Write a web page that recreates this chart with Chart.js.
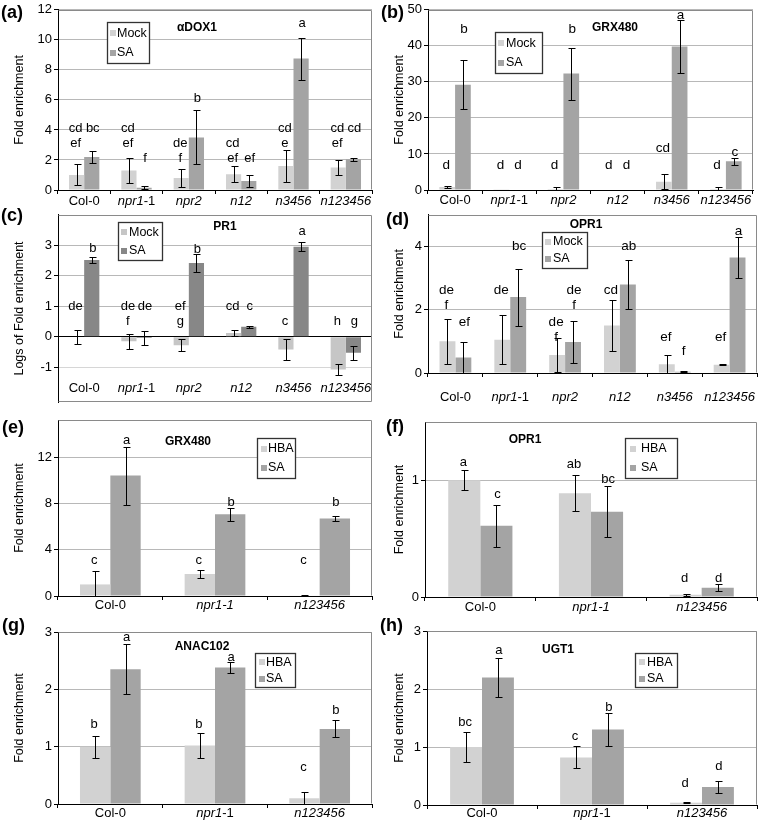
<!DOCTYPE html>
<html>
<head>
<meta charset="utf-8">
<script src="https://cdn.jsdelivr.net/npm/chart.js@4.4.0/dist/chart.umd.min.js"></script>
<style>
body { margin: 0; background: #fff; }
#fig { position: relative; width: 760px; height: 824px; overflow: hidden; background: #fff; }
#fig canvas { position: absolute; }
.tag { position: absolute; font: bold 18px "Liberation Sans", Arial, sans-serif; line-height: 18px; color: #000; }
</style>
</head>
<body>
<div id="fig"></div>
<script>
var catsSix = ['Col-0', 'npr1-1', 'npr2', 'n12', 'n3456', 'n123456'];
var catsThree = ['Col-0', 'npr1-1', 'n123456'];

// (a) aDOX1
var aMock = [1.0, 1.3, 0.8, 1.05, 1.6, 1.5];
var aMockErr = [0.7, 0.85, 0.6, 0.55, 1.05, 0.47];
var aSA = [2.2, 0.15, 3.5, 0.6, 8.75, 2.05];
var aSAErr = [0.4, 0.1, 1.8, 0.4, 1.4, 0.1];
var aMockLetters = ['cd\nef', 'cd\nef', 'de\nf', 'cd\nef', 'cd\ne', 'cd\nef'];
var aMockLetterAt = [3.1, 3.1, 2.1, 2.1, 3.1, 3.1];
var aSALetters = ['bc', 'f', 'b', 'ef', 'a', 'cd'];
var aSALetterAt = [4.1, 2.1, 6.1, 2.1, 11.1, 4.1];

// (b) GRX480
var bMock = [0.8, 0.05, 0.3, 0.15, 2.3, 0.3];
var bMockErr = [0.3, 0, 0.5, 0, 2.1, 0.6];
var bSA = [29.2, 0.15, 32.3, 0.15, 39.8, 8.0];
var bSAErr = [6.8, 0, 7.2, 0, 7.3, 1.0];
var bMockLetters = ['d', 'd', 'd', 'd', 'cd', 'd'];
var bMockLetterAt = [6.9, 6.9, 6.9, 6.9, 11.5, 6.9];
var bSALetters = ['b', 'd', 'b', 'd', 'a', 'c'];
var bSALetterAt = [44.5, 6.9, 44.5, 6.9, 48.6, 10.5];

// (c) PR1, logs
var cMock = [-0.02, -0.15, -0.28, 0.12, -0.42, -1.08];
var cMockErr = [0.23, 0.25, 0.19, 0.1, 0.33, 0.18];
var cSA = [2.52, -0.04, 2.42, 0.33, 2.95, -0.53];
var cSAErr = [0.1, 0.22, 0.3, 0.03, 0.15, 0.23];
var cMockLetters = ['de', 'de\nf', 'ef\ng', 'cd', 'c', 'h'];
var cMockLetterAt = [1.0, 0.5, 0.5, 1.0, 0.5, 0.5];
var cSALetters = ['b', 'de', 'b', 'c', 'a', 'g'];
var cSALetterAt = [2.9, 1.0, 2.85, 1.0, 3.47, 0.5];

// (d) OPR1
var dMock = [1.0, 1.05, 0.57, 1.5, 0.28, 0.26];
var dMockErr = [0.7, 0.77, 0.53, 0.8, 0.29, 0.01];
var dSA = [0.49, 2.4, 0.98, 2.8, 0.04, 3.65];
var dSAErr = [0.49, 0.9, 0.65, 0.78, 0.02, 0.65];
var dMockLetters = ['de\nf', 'de', 'de\nf', 'cd', 'ef', 'ef'];
var dMockLetterAt = [2.13, 2.6, 1.14, 2.6, 1.14, 1.14];
var dSALetters = ['ef', 'bc', 'de\nf', 'ab', 'f', 'a'];
var dSALetterAt = [1.6, 4.0, 2.13, 4.0, 0.68, 4.47];

// (e) GRX480
var eHBA = [1.0, 1.9, 0.05];
var eHBAErr = [1.2, 0.35, 0.05];
var eSA = [10.4, 7.05, 6.7];
var eSAErr = [2.5, 0.55, 0.2];
var eHBALetters = ['c', 'c', 'c'];
var eHBALetterAt = [3.1, 3.1, 3.1];
var eSALetters = ['a', 'b', 'b'];
var eSALetterAt = [13.45, 8.1, 8.1];

// (f) OPR1
var fHBA = [1.0, 0.89, 0.02];
var fHBAErr = [0.085, 0.155, 0.01];
var fSA = [0.61, 0.73, 0.08];
var fSAErr = [0.18, 0.22, 0.03];
var fHBALetters = ['a', 'ab', 'd'];
var fHBALetterAt = [1.15, 1.14, 0.16];
var fSALetters = ['c', 'bc', 'd'];
var fSALetterAt = [0.88, 1.01, 0.16];

// (g) ANAC102
var gHBA = [1.0, 1.02, 0.1];
var gHBAErr = [0.19, 0.22, 0.11];
var gSA = [2.35, 2.38, 1.31];
var gSAErr = [0.44, 0.1, 0.15];
var gHBALetters = ['b', 'b', 'c'];
var gHBALetterAt = [1.38, 1.38, 0.63];
var gSALetters = ['a', 'a', 'b'];
var gSALetterAt = [2.9, 2.56, 1.64];

// (h) UGT1
var hHBA = [1.0, 0.82, 0.04];
var hHBAErr = [0.25, 0.19, 0.01];
var hSA = [2.2, 1.3, 0.31];
var hSAErr = [0.33, 0.29, 0.11];
var hHBALetters = ['bc', 'c', 'd'];
var hHBALetterAt = [1.43, 1.19, 0.37];
var hSALetters = ['a', 'b', 'd'];
var hSALetterAt = [2.67, 1.69, 0.66];

var FONT = '"Liberation Sans", Arial, sans-serif';
var fig = document.getElementById('fig');

function labelParts(label, allItalic) {
	if (label === 'Col-0') return [[label, false]];
	if (!allItalic && label.slice(-2) === '-1') return [[label.slice(0, -2), true], ['-1', false]];
	return [[label, true]];
}

var decor = {
	id: 'decor',
	afterDatasetsDraw: function (chart) {
		var p = chart.options.plugins.decor;
		var ctx = chart.ctx, ca = chart.chartArea;
		var xs = chart.scales.x, ys = chart.scales.y;
		ctx.save();

		// plot frame, top and right side (and bottom for the log panel)
		ctx.strokeStyle = '#8a8a8a';
		ctx.lineWidth = 1;
		ctx.beginPath();
		ctx.moveTo(Math.round(ca.left) + 0.5, Math.round(ca.top) + 0.5);
		ctx.lineTo(Math.round(ca.right) - 0.5, Math.round(ca.top) + 0.5);
		ctx.lineTo(Math.round(ca.right) - 0.5, Math.round(ca.bottom) - 0.5);
		if (p.closeFrame) ctx.lineTo(Math.round(ca.left) + 0.5, Math.round(ca.bottom) - 0.5);
		ctx.stroke();

		chart.data.datasets.forEach(function (ds, di) {
			var meta = chart.getDatasetMeta(di);
			meta.data.forEach(function (bar, i) {
				var x = Math.round(bar.x) + 0.5;
				var e = ds.errs[i];
				if (e > 0) {
					var hi = Math.min(ds.data[i] + e, ys.max), lo = Math.max(ds.data[i] - e, ys.min);
					var yh = Math.round(ys.getPixelForValue(hi)) + 0.5, yl = Math.round(ys.getPixelForValue(lo)) + 0.5;
					ctx.strokeStyle = '#000';
					ctx.beginPath();
					ctx.moveTo(x, yh); ctx.lineTo(x, yl);
					ctx.moveTo(x - 3, yh); ctx.lineTo(x + 4, yh);
					if (lo > ys.min) { ctx.moveTo(x - 3, yl); ctx.lineTo(x + 4, yl); }
					ctx.stroke();
				}
				var lines = ds.letters[i].split('\n');
				var y0 = ys.getPixelForValue(ds.letterAt[i]);
				ctx.fillStyle = '#000';
				ctx.font = p.letterSize + 'px ' + FONT;
				ctx.textAlign = 'center';
				ctx.textBaseline = 'middle';
				lines.forEach(function (t, k) {
					ctx.fillText(t, bar.x + (di === 0 ? -1 : 1), y0 - (lines.length - 1 - k) * 15);
				});
			});
		});

		// category labels with italic gene names
		ctx.textBaseline = 'middle';
		ctx.textAlign = 'left';
		chart.data.labels.forEach(function (lab, i) {
			var parts = labelParts(lab, p.allItalic), w = 0;
			parts.forEach(function (pt) {
				ctx.font = (pt[1] ? 'italic ' : '') + '13px ' + FONT;
				w += ctx.measureText(pt[0]).width;
			});
			var cx = xs.getPixelForValue(i) - w / 2, cy = ca.bottom + p.labelOffset;
			parts.forEach(function (pt) {
				ctx.font = (pt[1] ? 'italic ' : '') + '13px ' + FONT;
				ctx.fillText(pt[0], cx, cy);
				cx += ctx.measureText(pt[0]).width;
			});
		});

		// gene title
		ctx.font = 'bold 12px ' + FONT;
		ctx.textAlign = 'center';
		ctx.fillText(p.title[0], p.title[1], p.title[2]);

		// legend box
		var lg = p.legend;
		ctx.fillStyle = '#fff';
		ctx.fillRect(lg.x, lg.y, lg.w, lg.h);
		ctx.strokeStyle = '#333';
		ctx.lineWidth = 1.3;
		ctx.strokeRect(lg.x + 0.5, lg.y + 0.5, lg.w, lg.h);
		ctx.font = '12.5px ' + FONT;
		ctx.textAlign = 'left';
		chart.data.datasets.forEach(function (ds, di) {
			var iy = lg.y + lg.h * (di === 0 ? 0.27 : 0.75);
			ctx.fillStyle = ds.backgroundColor;
			ctx.fillRect(lg.x + lg.sq, Math.round(iy - 3), 6, 6);
			ctx.fillStyle = '#000';
			ctx.fillText(ds.label, lg.x + lg.tx, iy);
		});
		ctx.restore();
	}
};

function makePanel(p) {
	var box = p.box, area = p.area;
	var cv = document.createElement('canvas');
	cv.width = box[2];
	cv.height = box[3];
	cv.style.left = box[0] + 'px';
	cv.style.top = box[1] + 'px';
	fig.appendChild(cv);

	var tag = document.createElement('div');
	tag.className = 'tag';
	tag.textContent = p.tag[0];
	tag.style.left = p.tag[1] + 'px';
	tag.style.top = p.tag[2] + 'px';
	fig.appendChild(tag);

	var ds = p.series.map(function (s, k) {
		return {
			label: s.name, data: s.values, errs: s.errs, letters: s.letters, letterAt: s.letterAt,
			backgroundColor: p.colors[k], borderWidth: 0,
			barPercentage: 1, categoryPercentage: 0.58
		};
	});

	new Chart(cv, {
		type: 'bar',
		data: { labels: p.labels, datasets: ds },
		options: {
			responsive: false,
			animation: false,
			devicePixelRatio: 1,
			layout: { padding: { left: 0, bottom: 0, top: area[1] - box[1], right: box[0] + box[2] - area[2] } },
			scales: {
				x: {
					grid: { display: !p.logPanel, drawOnChartArea: false, color: '#000', tickLength: 4 },
					border: { display: !p.logPanel, color: '#000' },
					ticks: { display: false },
					afterFit: function (s) { s.height = box[1] + box[3] - area[3]; }
				},
				y: {
					min: p.yMin, max: p.yMax,
					afterBuildTicks: function (s) { s.ticks = p.yTicks.map(function (v) { return { value: v }; }); },
					ticks: { color: '#000', padding: 2, font: { family: FONT, size: 13 } },
					grid: {
						tickLength: 4, tickColor: '#000',
						color: function (c) {
							var v = c.tick ? c.tick.value : null;
							if (v === 0) return p.logPanel ? '#000' : 'rgba(0,0,0,0)';
							if (v === -1) return '#d6d6d6';
							return '#b8b8b8';
						}
					},
					border: { color: '#000' },
					title: {
						display: true, text: p.yTitle, color: '#000',
						font: { family: FONT, size: 12.5 }, padding: { top: 12, bottom: 0 }
					},
					afterFit: function (s) { s.width = area[0] - box[0]; }
				}
			},
			plugins: {
				legend: { display: false },
				tooltip: { enabled: false },
				decor: {
					title: p.title, legend: p.legend, labelOffset: p.labelOffset, closeFrame: !!p.logPanel,
					allItalic: p.allItalic, letterSize: p.letterSize
				}
			}
		},
		plugins: [decor]
	});
}

var light = '#d2d2d2', dark = '#a4a4a4';

makePanel({
	tag: ['(a)', 1, 3], box: [0, 0, 380, 215], area: [58, 8, 372, 190],
	labels: catsSix, colors: [light, dark], yMin: 0, yMax: 12, yTicks: [0, 2, 4, 6, 8, 10, 12],
	yTitle: 'Fold enrichment', title: ['\u03b1DOX1', 197, 28], labelOffset: 11, letterSize: 13,
	legend: { x: 107, y: 22, w: 42, h: 41, sq: 3, tx: 10 },
	series: [
		{ name: 'Mock', values: aMock, errs: aMockErr, letters: aMockLetters, letterAt: aMockLetterAt },
		{ name: 'SA', values: aSA, errs: aSAErr, letters: aSALetters, letterAt: aSALetterAt }
	]
});

makePanel({
	tag: ['(b)', 381, 3], box: [380, 0, 380, 215], area: [428, 8, 753, 190],
	labels: catsSix, colors: [light, dark], yMin: 0, yMax: 50, yTicks: [0, 10, 20, 30, 40, 50],
	yTitle: 'Fold enrichment', title: ['GRX480', 235, 28], labelOffset: 10, letterSize: 13.5,
	legend: { x: 115, y: 32, w: 47, h: 41, sq: 3, tx: 11 },
	series: [
		{ name: 'Mock', values: bMock, errs: bMockErr, letters: bMockLetters, letterAt: bMockLetterAt },
		{ name: 'SA', values: bSA, errs: bSAErr, letters: bSALetters, letterAt: bSALetterAt }
	]
});

makePanel({
	tag: ['(c)', 1, 206], box: [0, 205, 380, 207], area: [58, 211, 372, 406], logPanel: true,
	labels: catsSix, colors: ['#c6c6c6', '#878787'], yMin: -2.15, yMax: 4, yTicks: [-1, 0, 1, 2, 3],
	yTitle: 'Logs of Fold enrichment', title: ['PR1', 225, 22], labelOffset: -14, letterSize: 13,
	legend: { x: 118, y: 17, w: 44, h: 38, sq: 3, tx: 11 },
	series: [
		{ name: 'Mock', values: cMock, errs: cMockErr, letters: cMockLetters, letterAt: cMockLetterAt },
		{ name: 'SA', values: cSA, errs: cSAErr, letters: cSALetters, letterAt: cSALetterAt }
	]
});

makePanel({
	tag: ['(d)', 386, 210], box: [380, 205, 380, 207], area: [428, 212, 757, 373],
	labels: catsSix, colors: [light, dark], yMin: 0, yMax: 5, yTicks: [0, 2, 4],
	yTitle: 'Fold enrichment', title: ['OPR1', 206, 20], labelOffset: 24, letterSize: 13.5,
	legend: { x: 162, y: 27, w: 45, h: 36, sq: 3, tx: 11 },
	series: [
		{ name: 'Mock', values: dMock, errs: dMockErr, letters: dMockLetters, letterAt: dMockLetterAt },
		{ name: 'SA', values: dSA, errs: dSAErr, letters: dSALetters, letterAt: dSALetterAt }
	]
});

makePanel({
	tag: ['(e)', 2, 418], box: [0, 410, 380, 207], area: [58, 420, 372, 596], allItalic: true,
	labels: catsThree, colors: [light, dark], yMin: 0, yMax: 15.2, yTicks: [0, 4, 8, 12],
	yTitle: 'Fold enrichment', title: ['GRX480', 188, 32], labelOffset: 9, letterSize: 13,
	legend: { x: 257, y: 28, w: 38, h: 40, sq: 4, tx: 11 },
	series: [
		{ name: 'HBA', values: eHBA, errs: eHBAErr, letters: eHBALetters, letterAt: eHBALetterAt },
		{ name: 'SA', values: eSA, errs: eSAErr, letters: eSALetters, letterAt: eSALetterAt }
	]
});

makePanel({
	tag: ['(f)', 386, 417], box: [380, 410, 380, 207], area: [425, 422, 757, 597], allItalic: true,
	labels: catsThree, colors: [light, dark], yMin: 0, yMax: 1.5, yTicks: [0, 1],
	yTitle: 'Fold enrichment', title: ['OPR1', 145, 30], labelOffset: 10, letterSize: 13,
	legend: { x: 245, y: 28, w: 52, h: 40, sq: 5, tx: 16 },
	series: [
		{ name: 'HBA', values: fHBA, errs: fHBAErr, letters: fHBALetters, letterAt: fHBALetterAt },
		{ name: 'SA', values: fSA, errs: fSAErr, letters: fSALetters, letterAt: fSALetterAt }
	]
});

makePanel({
	tag: ['(g)', 2, 616], box: [0, 615, 380, 209], area: [58, 632, 372, 804],
	labels: catsThree, colors: [light, dark], yMin: 0, yMax: 3, yTicks: [0, 1, 2, 3],
	yTitle: 'Fold enrichment', title: ['ANAC102', 202, 32], labelOffset: 9, letterSize: 13,
	legend: { x: 255, y: 38, w: 40, h: 34, sq: 4, tx: 11 },
	series: [
		{ name: 'HBA', values: gHBA, errs: gHBAErr, letters: gHBALetters, letterAt: gHBALetterAt },
		{ name: 'SA', values: gSA, errs: gSAErr, letters: gSALetters, letterAt: gSALetterAt }
	]
});

makePanel({
	tag: ['(h)', 380, 616], box: [380, 615, 380, 209], area: [427, 631, 757, 805],
	labels: catsThree, colors: [light, dark], yMin: 0, yMax: 3, yTicks: [0, 1, 2, 3],
	yTitle: 'Fold enrichment', title: ['UGT1', 178, 35], labelOffset: 8, letterSize: 13,
	legend: { x: 255, y: 38, w: 42, h: 34, sq: 4, tx: 12 },
	series: [
		{ name: 'HBA', values: hHBA, errs: hHBAErr, letters: hHBALetters, letterAt: hHBALetterAt },
		{ name: 'SA', values: hSA, errs: hSAErr, letters: hSALetters, letterAt: hSALetterAt }
	]
});
</script>
</body>
</html>
